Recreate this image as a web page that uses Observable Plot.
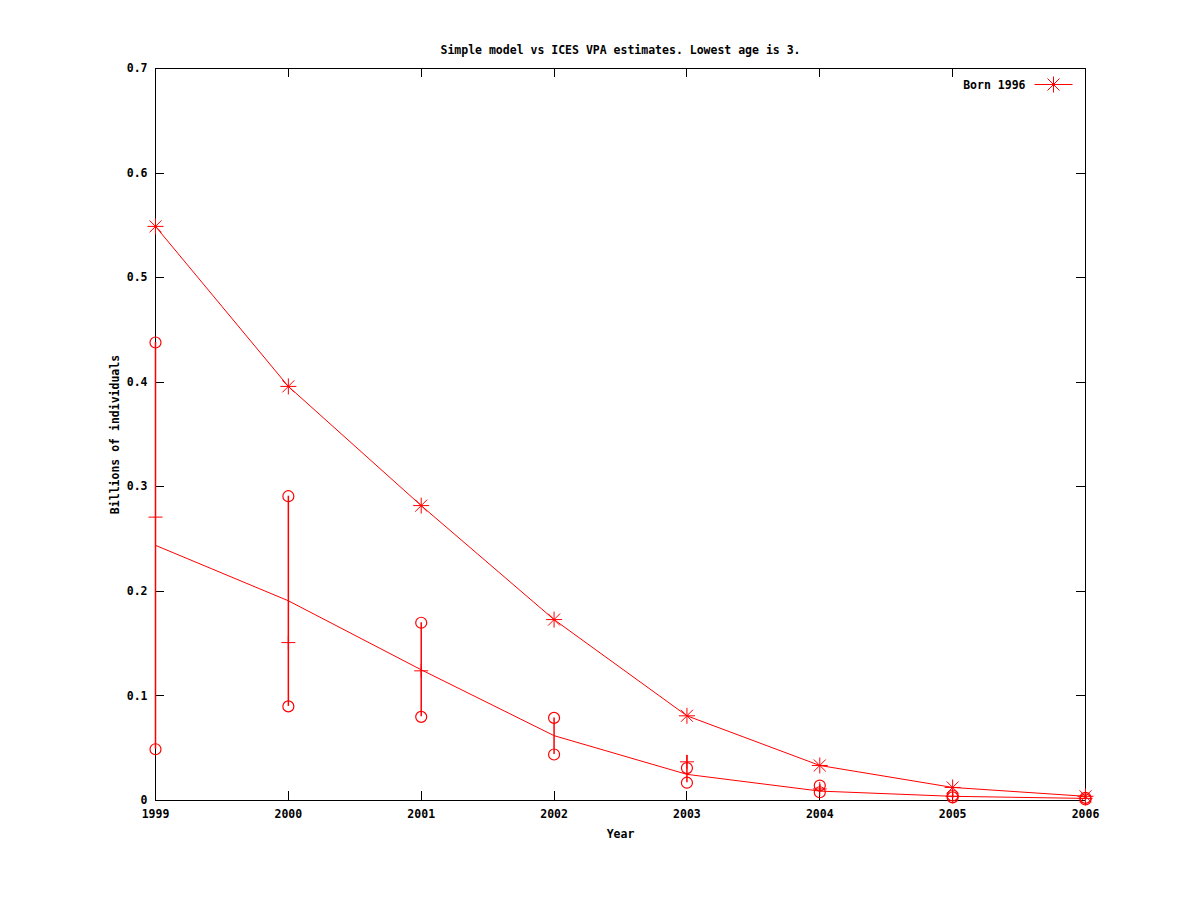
<!DOCTYPE html>
<html><head><meta charset="utf-8">
<script src="https://cdn.jsdelivr.net/npm/d3@7"></script>
<script src="https://cdn.jsdelivr.net/npm/@observablehq/plot@0.6"></script>
<style>
html,body{margin:0;padding:0;background:#fff;}
#chart svg{display:block;}
</style></head><body><div id="chart"></div>
<script>
const years = [1999, 2000, 2001, 2002, 2003, 2004, 2005, 2006];
const born1996 = [0.549, 0.396, 0.282, 0.173, 0.081, 0.0335, 0.0125, 0.004];
const model = [0.244, 0.191, 0.125, 0.062, 0.025, 0.009, 0.004, 0.002];
const vpaHigh = [0.438, 0.291, 0.170, 0.079, 0.031, 0.0143, 0.0048, 0.0025];
const vpaLow = [0.049, 0.090, 0.080, 0.044, 0.017, 0.0079, 0.003, 0.001];
const barLow = [0.049, 0.090, 0.080, 0.044, 0.017, 0.008, 0.002, 0.0005];
const barHigh = [0.438, 0.291, 0.170, 0.079, 0.043, 0.015, 0.006, 0.003];
const barMid = [0.271, 0.151, 0.124, null, 0.037, 0.011, 0.004, 0.002];
const yTicks = [0, 0.1, 0.2, 0.3, 0.4, 0.5, 0.6, 0.7];
const xDomain = [1999, 2006];
const yDomain = [0, 0.7];
const titleText = "Simple model vs ICES VPA estimates. Lowest age is 3.";
const seriesName = "Born 1996";
const xLabel = "Year";
const yLabel = "Billions of individuals";

const rows = years.map((year, i) => ({
  year, born: born1996[i], model: model[i], hi: vpaHigh[i], lo: vpaLow[i],
  bLo: barLow[i], bHi: barHigh[i], mid: barMid[i]
}));

const RED = "#ff0000";
const star = {draw(ctx) {
  const r = 8, d = 6;
  ctx.moveTo(-r, 0); ctx.lineTo(r, 0);
  ctx.moveTo(0, -r); ctx.lineTo(0, r);
  ctx.moveTo(-d, -d); ctx.lineTo(d, d);
  ctx.moveTo(-d, d); ctx.lineTo(d, -d);
}};
const plus = {draw(ctx) {
  const r = 7;
  ctx.moveTo(-r, 0); ctx.lineTo(r, 0);
  ctx.moveTo(0, -r); ctx.lineTo(0, r);
}};
const swatch = {draw(ctx) {
  ctx.moveTo(-19, 0); ctx.lineTo(19, 0);
  star.draw(ctx);
}};

const W = 1200, H = 900, mL = 155, mR = 115, mT = 68, mB = 100;
const fw = W - mL - mR, fh = H - mT - mB, tk = 9;

const chart = Plot.plot({
  width: W, height: H,
  marginLeft: mL, marginRight: mR, marginTop: mT, marginBottom: mB,
  style: {fontFamily: "'DejaVu Sans Mono', monospace", fontSize: "11.5px", fontWeight: "bold", background: "#fff", color: "#000"},
  x: {domain: xDomain},
  y: {domain: yDomain},
  marks: [
    Plot.ruleX(xDomain, {x: d => d, stroke: "black", shapeRendering: "crispEdges"}),
    Plot.ruleY(yDomain, {y: d => d, stroke: "black", shapeRendering: "crispEdges"}),
    // inward ticks
    Plot.tickY(yTicks, {y: d => d, insetRight: fw - tk, stroke: "black", shapeRendering: "crispEdges"}),
    Plot.tickY(yTicks, {y: d => d, insetLeft: fw - tk, stroke: "black", shapeRendering: "crispEdges"}),
    Plot.tickX(years, {x: d => d, insetTop: fh - tk, stroke: "black", shapeRendering: "crispEdges"}),
    Plot.tickX(years, {x: d => d, insetBottom: fh - tk, stroke: "black", shapeRendering: "crispEdges"}),
    Plot.axisY(yTicks, {tickSize: 0, tickPadding: 8, tickFormat: d => d === 0 ? "0" : d.toFixed(1), label: null, fill: "black"}),
    Plot.axisX(years, {tickSize: 0, tickPadding: 9, tickFormat: d => String(d), label: null, fill: "black"}),
    // VPA circles and centre ticks
    Plot.dot(rows.filter(d => d.mid != null), {x: "year", y: "mid", symbol: plus, stroke: RED, strokeWidth: 1}),
    Plot.dot(rows, {x: "year", y: "hi", r: 5.5, stroke: RED, fill: "none", strokeWidth: 1.2}),
    Plot.dot(rows, {x: "year", y: "lo", r: 5.5, stroke: RED, fill: "none", strokeWidth: 1.2}),
    // model line
    Plot.line(rows, {x: "year", y: "model", stroke: RED, strokeWidth: 1}),
    // Born 1996 series
    Plot.line(rows, {x: "year", y: "born", stroke: RED, strokeWidth: 1}),
    Plot.dot(rows, {x: "year", y: "born", symbol: star, stroke: RED, strokeWidth: 1}),
    // error bars
    Plot.ruleX(rows, {x: "year", y1: "bLo", y2: "bHi", stroke: RED, strokeWidth: 1.5}),
    // legend
    Plot.text([seriesName], {text: d => d, frameAnchor: "top-right", dx: -60, dy: 12, textAnchor: "end", fill: "black"}),
    Plot.dot([seriesName], {frameAnchor: "top-right", dx: -32, dy: 16, symbol: swatch, stroke: RED, strokeWidth: 1}),
    // titles
    Plot.text([titleText], {text: d => d, frameAnchor: "top", dy: -23, fill: "black"}),
    Plot.text([xLabel], {text: d => d, frameAnchor: "bottom", dy: 37, fill: "black"}),
    Plot.text([yLabel], {text: d => d, frameAnchor: "left", dx: -40, rotate: -90, textAnchor: "middle", fill: "black"})
  ]
});
document.getElementById("chart").appendChild(chart);
</script>
</body></html>
